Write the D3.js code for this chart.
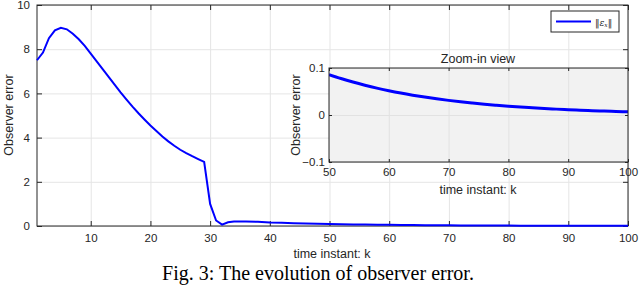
<!DOCTYPE html>
<html>
<head>
<meta charset="utf-8">
<title>Observer error</title>
<script src="https://cdnjs.cloudflare.com/ajax/libs/d3/7.8.5/d3.min.js"></script>
<style>
body { margin: 0; background: #fff; }
svg { font-family: "Liberation Sans", Arial, sans-serif; }
.tick text { fill: #262626; font-size: 11.5px; }
.tick line { stroke: #262626; }
.grid line { stroke: #e5e5e5; }
.grid path, .ax path { display: none; }
.igrid line { stroke: #e2e2e2; }
.igrid path { display: none; }
.lbl { fill: #262626; font-size: 12.5px; }
</style>
</head>
<body>
<script>

// time instants and observer error
var steps = [1, 2, 3, 4, 5, 6, 7, 8, 9, 10, 11, 12, 13, 14, 15, 16, 17, 18, 19, 20,
    21, 22, 23, 24, 25, 26, 27, 28, 29, 30, 31, 32, 33, 34, 35, 36, 38, 40, 42, 44,
    46, 48, 50, 52, 54, 56, 58, 60, 62, 64, 66, 68, 70, 72, 74, 76, 78, 80, 82, 84,
    86, 88, 90, 92, 94, 96, 98, 100];
var errs = [7.5, 7.85, 8.5, 8.85, 8.97, 8.9, 8.7, 8.45, 8.15, 7.8, 7.45, 7.1, 6.75, 6.4, 6.05, 5.72, 5.4, 5.1, 4.82, 4.55,
    4.3, 4.05, 3.83, 3.63, 3.45, 3.3, 3.16, 3.03, 2.9, 1.0, 0.25, 0.06, 0.17, 0.2, 0.2, 0.2, 0.19, 0.16, 0.145, 0.128,
    0.113, 0.099, 0.086, 0.0777, 0.0702, 0.0634, 0.0572, 0.0517, 0.0467, 0.0422, 0.0381, 0.0344, 0.0311, 0.0281, 0.0254, 0.0229, 0.0207, 0.0187, 0.0169, 0.0153,
    0.0138, 0.0125, 0.0113, 0.0102, 0.0092, 0.0083, 0.0075, 0.0068];

var xTicks = [10, 20, 30, 40, 50, 60, 70, 80, 90, 100];
var yTicks = [0, 2, 4, 6, 8, 10];
var zxTicks = [50, 60, 70, 80, 90, 100];
var zyTicks = [-0.1, 0, 0.1];

var data = steps.map(function(k, i) { return {k: k, e: errs[i]}; });

var svg = d3.select("body").append("svg")
    .attr("width", 640)
    .attr("height", 286);

// main axes
var x = d3.scaleLinear().domain([1, 100]).range([37, 628]);
var y = d3.scaleLinear().domain([0, 10]).range([226, 5]);

svg.append("g").attr("class", "grid")
    .attr("transform", "translate(0,226)")
    .call(d3.axisBottom(x).tickValues(xTicks).tickSize(-221).tickFormat(""));
svg.append("g").attr("class", "grid")
    .attr("transform", "translate(37,0)")
    .call(d3.axisLeft(y).tickValues(yTicks).tickSize(-591).tickFormat(""));

svg.append("g").attr("class", "ax")
    .attr("transform", "translate(0,226)")
    .call(d3.axisBottom(x).tickValues(xTicks).tickSize(-5).tickPadding(8));
svg.append("g").attr("class", "ax")
    .attr("transform", "translate(0,5)")
    .call(d3.axisTop(x).tickValues(xTicks).tickSize(-5).tickFormat(""));
svg.append("g").attr("class", "ax")
    .attr("transform", "translate(37,0)")
    .call(d3.axisLeft(y).tickValues(yTicks).tickSize(-5).tickPadding(7));
svg.append("g").attr("class", "ax")
    .attr("transform", "translate(628,0)")
    .call(d3.axisRight(y).tickValues(yTicks).tickSize(-5).tickFormat(""));

svg.append("rect")
    .attr("x", 37).attr("y", 5).attr("width", 591).attr("height", 221)
    .attr("fill", "none").attr("stroke", "#262626").attr("stroke-width", 1);

var line = d3.line()
    .x(function(d) { return x(d.k); })
    .y(function(d) { return y(d.e); });

svg.append("path")
    .attr("d", line(data))
    .attr("fill", "none")
    .attr("stroke", "#0000ff")
    .attr("stroke-width", 2);

svg.append("text").attr("class", "lbl")
    .attr("x", 332).attr("y", 258).attr("text-anchor", "middle")
    .text("time instant: k");
svg.append("text").attr("class", "lbl")
    .attr("transform", "translate(13,115) rotate(-90)")
    .attr("text-anchor", "middle")
    .text("Observer error");

// legend
var lg = svg.append("g");
lg.append("rect")
    .attr("x", 551).attr("y", 11).attr("width", 68).attr("height", 21)
    .attr("fill", "#fff").attr("stroke", "#262626").attr("stroke-width", 1);
lg.append("line")
    .attr("x1", 556).attr("x2", 591).attr("y1", 21.5).attr("y2", 21.5)
    .attr("stroke", "#0000ff").attr("stroke-width", 2);
var lt = lg.append("text").attr("x", 595).attr("y", 25.5).attr("font-size", 10.5)
    .attr("font-family", "'DejaVu Serif', serif").attr("fill", "#262626");
lt.append("tspan").attr("font-size", 9).text("\u2016");
lt.append("tspan").attr("font-style", "italic").attr("font-size", 9).text("\u03b5");
lt.append("tspan").attr("font-style", "italic").attr("font-size", 6).attr("dy", 1.5).text("x");
lt.append("tspan").attr("font-size", 9).attr("dy", -1.5).text("\u2016");

// zoom-in inset
var zx = d3.scaleLinear().domain([50, 100]).range([329, 628]);
var zy = d3.scaleLinear().domain([-0.1, 0.1]).range([162, 68]);

svg.append("rect")
    .attr("x", 329).attr("y", 68).attr("width", 299).attr("height", 94)
    .attr("fill", "#f2f2f2");

svg.append("g").attr("class", "igrid")
    .attr("transform", "translate(0,162)")
    .call(d3.axisBottom(zx).tickValues(zxTicks).tickSize(-94).tickFormat(""));
svg.append("g").attr("class", "igrid")
    .attr("transform", "translate(329,0)")
    .call(d3.axisLeft(zy).tickValues(zyTicks).tickSize(-299).tickFormat(""));

svg.append("g").attr("class", "ax")
    .attr("transform", "translate(0,162)")
    .call(d3.axisBottom(zx).tickValues(zxTicks).tickSize(-3).tickPadding(6));
svg.append("g").attr("class", "ax")
    .attr("transform", "translate(0,68)")
    .call(d3.axisTop(zx).tickValues(zxTicks).tickSize(-3).tickFormat(""));
svg.append("g").attr("class", "ax")
    .attr("transform", "translate(329,0)")
    .call(d3.axisLeft(zy).tickValues(zyTicks).tickSize(-3).tickPadding(4)
        .tickFormat(function(d) { return d === 0 ? "0" : d3.format(".1f")(d); }));
svg.append("g").attr("class", "ax")
    .attr("transform", "translate(628,0)")
    .call(d3.axisRight(zy).tickValues(zyTicks).tickSize(-3).tickFormat(""));

svg.append("clipPath").attr("id", "zclip")
    .append("rect").attr("x", 329).attr("y", 68).attr("width", 299).attr("height", 94);

var zline = d3.line()
    .curve(d3.curveMonotoneX)
    .x(function(d) { return zx(d.k); })
    .y(function(d) { return zy(d.e); });

svg.append("path")
    .attr("clip-path", "url(#zclip)")
    .attr("d", zline(data.filter(function(d) { return d.k >= 50; })))
    .attr("fill", "none")
    .attr("stroke", "#0000ff")
    .attr("stroke-width", 3);

svg.append("rect")
    .attr("x", 329).attr("y", 68).attr("width", 299).attr("height", 94)
    .attr("fill", "none").attr("stroke", "#262626").attr("stroke-width", 1);

svg.append("text").attr("class", "lbl")
    .attr("x", 478).attr("y", 63).attr("text-anchor", "middle")
    .attr("font-size", 13.5)
    .text("Zoom-in view");
svg.append("text").attr("class", "lbl")
    .attr("x", 478).attr("y", 194).attr("text-anchor", "middle")
    .text("time instant: k");
svg.append("text").attr("class", "lbl")
    .attr("transform", "translate(300,115) rotate(-90)")
    .attr("text-anchor", "middle")
    .text("Observer error");

// caption
svg.append("text")
    .attr("x", 318).attr("y", 280).attr("text-anchor", "middle")
    .attr("font-family", "Liberation Serif, 'Times New Roman', serif")
    .attr("font-size", 20).attr("fill", "#000")
    .text("Fig. 3: The evolution of observer error.");

</script>
</body>
</html>
